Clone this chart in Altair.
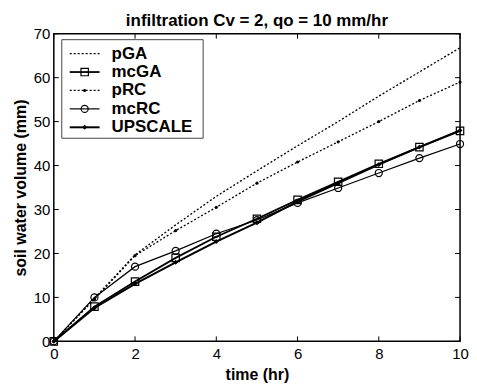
import altair as alt
import pandas as pd

# ---- data ----
time = [0, 1, 2, 3, 4, 5, 6, 7, 8, 9, 10]
pGA = [0, 9.8, 19.7, 26.5, 33.0, 38.8, 44.5, 50.0, 55.8, 61.3, 66.8]
mcGA = [0, 7.9, 13.6, 19.0, 23.8, 27.9, 32.2, 36.3, 40.4, 44.2, 47.9]
pRC = [0, 9.6, 19.5, 25.2, 30.5, 36.0, 40.8, 45.4, 50.0, 54.8, 59.0]
mcRC = [0, 10.0, 17.0, 20.6, 24.5, 27.6, 31.5, 34.9, 38.3, 41.7, 44.9]
UPSCALE = [0, 7.6, 13.1, 18.0, 22.7, 27.0, 31.8, 36.0, 40.2, 44.2, 48.0]
series_names = ["pGA", "mcGA", "pRC", "mcRC", "UPSCALE"]
series_values = [pGA, mcGA, pRC, mcRC, UPSCALE]
x_ticks = [0, 2, 4, 6, 8, 10]
y_ticks = [0, 10, 20, 30, 40, 50, 60, 70]
title_text = "infiltration Cv = 2, qo = 10 mm/hr"
x_title = "time (hr)"
y_title = "soil water volume (mm)"

# ---- styles ----
W, H = 408, 309
FONT = "Liberation Sans"
styles = {
    "pGA": dict(dash=[2, 2], width=1.3, shape=None),
    "mcGA": dict(dash=None, width=1.8, shape="square", filled=False, size=55),
    "pRC": dict(dash=[2, 2], width=1.3, shape="circle", filled=True, size=10),
    "mcRC": dict(dash=None, width=1.2, shape="circle", filled=False, size=50),
    "UPSCALE": dict(dash=None, width=2.0, shape="diamond", filled=True, size=24),
}

xs = alt.Scale(domain=[0, 10], nice=False, zero=False)
ys = alt.Scale(domain=[0, 70], nice=False, zero=False)
xaxis = alt.Axis(values=x_ticks, title=x_title, titlePadding=5, labelPadding=5)
yaxis = alt.Axis(values=y_ticks, title=y_title, titlePadding=5, labelPadding=4)

main_layers = []
for name, vals in zip(series_names, series_values):
    st = styles[name]
    d = pd.DataFrame({"time": time, "value": vals, "series": name})
    X = alt.X("time:Q", scale=xs, axis=xaxis)
    Y = alt.Y("value:Q", scale=ys, axis=yaxis)
    line_kw = dict(color="black", strokeWidth=st["width"])
    if st["dash"]:
        line_kw["strokeDash"] = st["dash"]
    main_layers.append(alt.Chart(d).mark_line(**line_kw).encode(x=X, y=Y))
    if st["shape"]:
        pk = dict(shape=st["shape"], size=st["size"], filled=st["filled"],
                  color="black", strokeWidth=1.2, opacity=1)
        main_layers.append(alt.Chart(d).mark_point(**pk).encode(x=X, y=Y))

# inward ticks on all four sides
xt = pd.DataFrame({"t": x_ticks})
yt = pd.DataFrame({"v": y_ticks})
XT = alt.X("t:Q", scale=xs, axis=xaxis)
YT = alt.Y("v:Q", scale=ys, axis=yaxis)
main_layers += [
    alt.Chart(xt).mark_rule(color="black").encode(x=XT, y=alt.value(H), y2=alt.value(H - 5)),
    alt.Chart(xt).mark_rule(color="black").encode(x=XT, y=alt.value(0), y2=alt.value(5)),
    alt.Chart(yt).mark_rule(color="black").encode(y=YT, x=alt.value(0), x2=alt.value(5)),
    alt.Chart(yt).mark_rule(color="black").encode(y=YT, x=alt.value(W), x2=alt.value(W - 5)),
]
main = alt.layer(*main_layers)

# ---- legend (inside, top-left) and title ----
leg_scale = alt.Scale(domain=[0, 4], range=[20, 94])
one = pd.DataFrame({"title": [title_text]})
legend_layers = [
    alt.Chart(one).mark_text(
        align="center", baseline="alphabetic", font=FONT, fontWeight="bold", fontSize=17, color="black"
    ).encode(x=alt.value(W / 2), y=alt.value(-8), text="title:N"),
    alt.Chart(one).mark_rect(fill="white", stroke="#444", strokeWidth=1).encode(
        x=alt.value(8), x2=alt.value(150), y=alt.value(6), y2=alt.value(105)),
]
for i, name in enumerate(series_names):
    st = styles[name]
    d = pd.DataFrame({"row": [i], "series": [name]})
    YR = alt.Y("row:Q", scale=leg_scale, axis=None)
    rk = dict(color="black", strokeWidth=st["width"])
    if st["dash"]:
        rk["strokeDash"] = st["dash"]
    legend_layers.append(alt.Chart(d).mark_rule(**rk).encode(x=alt.value(16), x2=alt.value(46), y=YR))
    if st["shape"]:
        pk = dict(shape=st["shape"], size=st["size"], filled=st["filled"],
                  color="black", strokeWidth=1.2, opacity=1)
        legend_layers.append(alt.Chart(d).mark_point(**pk).encode(x=alt.value(31), y=YR))
    legend_layers.append(alt.Chart(d).mark_text(
        align="left", baseline="middle", font=FONT, fontWeight="bold", fontSize=17, color="black"
    ).encode(x=alt.value(58), y=YR, text="series:N"))
legend = alt.layer(*legend_layers)

chart = alt.layer(main, legend).resolve_scale(y="independent").properties(
    width=W, height=H,
    autosize=alt.AutoSizeParams(type="none"),
    padding={"left": 46, "top": 25, "right": 9, "bottom": 42},
).configure_view(stroke="black", strokeWidth=1.5).configure_axis(
    labelFont=FONT, labelFontSize=15, labelColor="black",
    titleFont=FONT, titleFontSize=16, titleFontWeight="bold", titleColor="black",
    domain=False, ticks=False, tickSize=0, grid=False, labelFlush=False,
)

chart.save("out.html", embed_options={"renderer": "svg", "actions": False})
